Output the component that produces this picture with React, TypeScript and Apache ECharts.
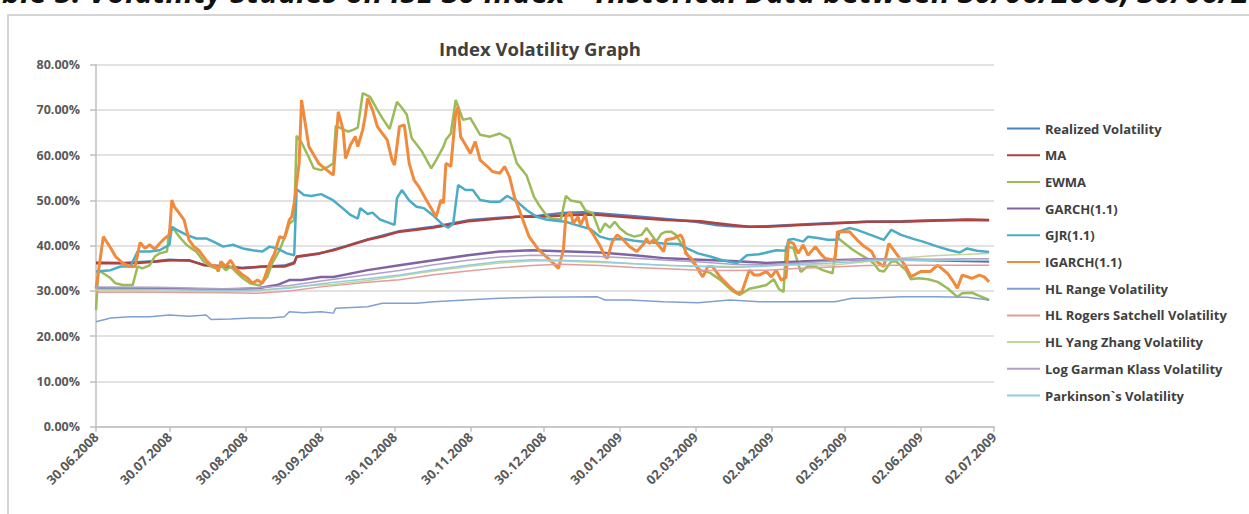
import React, { useEffect, useRef } from "react";
import * as echarts from "echarts";

// Calendar-day category axis: 30.06.2008 .. 02.07.2009
const START_YEAR = 2008;
const START_MONTH = 5; // June (0-based)
const START_DAY = 30;
const DAY_COUNT = 368;

const tickLabels = [
  "30.06.2008", "30.07.2008", "30.08.2008", "30.09.2008", "30.10.2008",
  "30.11.2008", "30.12.2008", "30.01.2009", "02.03.2009", "02.04.2009",
  "02.05.2009", "02.06.2009", "02.07.2009",
];

const seriesNames = [
  "Realized Volatility", "MA", "EWMA", "GARCH(1.1)", "GJR(1.1)", "IGARCH(1.1)",
  "HL Range Volatility", "HL Rogers Satchell Volatility", "HL Yang Zhang Volatility",
  "Log Garman Klass Volatility", "Parkinson`s Volatility",
];

// [day index, volatility %]
const realized: [number, number][] = [[0,36.3],[11,36.2],[25,36.6],[30,36.9],[38,36.7],[44,35.8],[60,35.1],[77,35.6],[81,36.3],[82,37.5],[91,38.2],[102,39.9],[111,41.4],[124,43.2],[138,44.2],[152,45.6],[165,46.2],[181,46.6],[190,47.2],[199,47.4],[206,47.1],[220,46.5],[233,45.9],[245,45.3],[253,44.6],[260,44.3],[267,44.2],[274,44.3],[288,44.7],[301,45.0],[315,45.3],[329,45.4],[342,45.6],[356,45.7],[365,45.6]];
const ma: [number, number][] = [[0,36.1],[11,36.1],[17,36.2],[25,36.5],[30,36.8],[38,36.8],[44,35.7],[52,35.4],[60,35.0],[68,35.4],[77,35.4],[81,36.1],[82,37.6],[91,38.3],[97,39.0],[102,39.8],[111,41.3],[117,42.0],[124,43.1],[131,43.5],[138,44.0],[145,44.7],[152,45.4],[158,45.7],[165,46.0],[172,46.4],[181,46.4],[199,46.9],[206,46.8],[220,46.2],[233,45.7],[247,45.4],[253,45.0],[260,44.6],[267,44.2],[274,44.2],[288,44.6],[301,44.9],[315,45.3],[329,45.3],[342,45.5],[356,45.8],[365,45.7]];
const ewma: [number, number][] = [[0,25.8],[1,34.6],[3,33.9],[6,32.8],[8,31.7],[11,31.3],[15,31.3],[17,35.4],[19,35.0],[22,35.7],[24,37.6],[26,38.3],[29,38.7],[30,43.5],[32,43.5],[34,42.0],[37,40.2],[39,39.4],[41,38.7],[44,36.5],[47,35.4],[49,35.0],[51,35.7],[53,34.6],[55,35.4],[57,34.3],[60,32.8],[63,31.7],[66,31.3],[67,31.3],[70,33.1],[72,36.1],[75,39.0],[78,43.1],[79,44.9],[81,45.7],[82,64.3],[84,62.8],[87,59.5],[89,57.1],[92,56.7],[95,57.5],[97,58.2],[98,66.5],[100,66.0],[103,65.2],[105,65.6],[107,66.1],[109,73.7],[112,72.9],[115,70.0],[117,68.2],[120,65.8],[123,71.8],[125,70.5],[127,69.0],[129,63.8],[133,61.0],[137,57.1],[139,58.9],[142,61.9],[143,63.4],[145,64.8],[147,72.2],[150,67.8],[153,68.2],[157,64.5],[161,64.1],[165,64.8],[169,63.6],[172,58.2],[176,55.5],[179,50.8],[181,49.0],[184,46.8],[186,46.0],[190,45.8],[192,51.0],[194,50.0],[198,49.6],[200,47.8],[203,47.2],[206,42.9],[208,44.9],[210,44.0],[212,45.3],[214,43.9],[217,42.6],[220,42.0],[223,42.4],[225,43.9],[227,42.4],[229,40.9],[231,42.6],[233,43.1],[235,43.1],[237,42.4],[240,39.8],[243,36.8],[247,34.6],[251,34.0],[255,32.5],[260,30.0],[263,29.1],[265,29.8],[267,30.5],[270,30.8],[274,31.3],[277,32.6],[279,30.5],[281,29.8],[282,39.8],[285,39.5],[288,34.2],[291,35.5],[294,35.4],[297,34.6],[301,33.9],[303,41.8],[306,40.5],[309,39.2],[311,38.5],[315,37.2],[318,36.0],[320,34.5],[322,34.3],[325,36.5],[327,36.5],[331,34.6],[333,32.6],[336,32.8],[340,32.6],[344,32.0],[348,30.6],[352,28.7],[354,29.5],[358,29.6],[361,28.9],[365,28.0]];
const garch: [number, number][] = [[0,30.6],[25,30.6],[52,30.2],[66,30.6],[74,31.3],[79,32.4],[84,32.4],[92,33.1],[97,33.1],[111,34.6],[124,35.7],[138,36.8],[152,37.9],[165,38.7],[178,39.0],[190,38.8],[206,38.5],[220,37.9],[233,37.2],[247,36.9],[260,36.6],[274,36.2],[288,36.5],[301,36.8],[315,37.0],[329,36.9],[342,36.8],[356,36.6],[365,36.5]];
const gjr: [number, number][] = [[0,34.3],[6,34.6],[10,35.4],[14,35.4],[17,38.7],[22,38.7],[26,39.0],[30,40.2],[31,44.2],[33,43.5],[37,42.4],[41,41.6],[45,41.6],[48,40.9],[52,39.8],[56,40.2],[60,39.4],[64,39.0],[68,38.7],[71,39.8],[74,39.4],[78,38.3],[81,37.9],[82,52.5],[85,51.2],[88,51.0],[92,51.4],[97,50.0],[101,48.2],[104,46.8],[107,46.0],[108,48.3],[111,47.0],[113,47.3],[116,45.8],[119,45.2],[122,44.6],[123,50.5],[125,52.3],[128,50.0],[131,48.6],[134,48.3],[138,46.6],[142,44.5],[144,44.0],[146,44.9],[148,53.4],[151,52.3],[154,52.3],[157,50.1],[161,49.7],[165,49.7],[168,51.0],[172,49.8],[176,47.9],[180,46.4],[184,45.8],[188,45.5],[192,45.3],[196,44.6],[202,43.7],[206,42.0],[210,41.4],[216,41.5],[220,41.1],[225,40.8],[232,40.5],[238,40.4],[242,39.3],[246,38.3],[251,37.6],[256,36.8],[262,36.1],[266,37.9],[271,38.1],[278,39.0],[282,38.9],[283,41.3],[285,41.5],[289,40.9],[291,42.0],[295,41.7],[299,41.3],[303,41.3],[304,43.2],[308,43.9],[311,43.5],[316,42.5],[322,41.3],[325,43.5],[329,42.4],[334,41.5],[338,40.9],[344,39.8],[349,39.0],[353,38.5],[356,39.4],[360,38.9],[365,38.6]];
const igarch: [number, number][] = [[0,30.5],[3,42.0],[6,39.5],[8,37.6],[11,36.1],[14,35.4],[16,35.4],[18,40.7],[20,39.4],[22,40.2],[24,39.2],[26,40.5],[28,41.6],[30,42.4],[31,50.1],[32,48.6],[34,47.2],[36,45.7],[37,43.5],[38,41.3],[40,39.8],[42,39.0],[45,36.8],[47,35.7],[49,35.4],[50,34.3],[51,36.5],[53,35.4],[55,36.8],[57,35.0],[60,33.5],[62,32.8],[64,31.7],[66,32.4],[68,31.7],[69,33.1],[71,36.1],[73,38.3],[75,42.0],[77,41.6],[79,45.7],[80,46.4],[81,49.4],[83,58.2],[84,72.2],[87,61.9],[91,58.2],[96,56.0],[97,55.6],[99,69.6],[101,65.6],[102,59.3],[104,62.3],[106,64.1],[107,61.9],[109,65.6],[110,68.5],[111,72.6],[113,70.0],[115,66.3],[119,63.4],[121,58.9],[122,57.8],[124,66.3],[126,66.7],[128,58.2],[130,54.5],[132,53.0],[135,50.1],[139,46.4],[141,50.1],[142,49.4],[143,58.2],[145,57.5],[147,69.3],[148,70.7],[149,64.1],[151,62.3],[153,60.4],[155,63.0],[157,58.9],[160,57.5],[162,56.4],[165,56.0],[167,57.5],[169,55.2],[171,50.8],[173,47.9],[175,44.9],[177,42.0],[179,40.5],[181,39.0],[184,37.6],[187,36.1],[189,35.0],[191,39.0],[192,46.4],[194,47.5],[195,44.9],[197,46.4],[198,44.6],[200,46.8],[201,44.2],[203,42.7],[206,40.0],[208,37.6],[209,37.2],[211,40.9],[213,42.4],[215,41.6],[218,39.8],[221,38.7],[224,40.5],[225,41.6],[226,40.5],[228,41.3],[232,38.7],[233,41.3],[236,41.6],[239,42.4],[240,41.3],[241,38.3],[244,36.8],[247,33.9],[248,33.1],[250,35.4],[252,35.4],[255,33.1],[259,30.9],[262,29.5],[264,29.8],[267,34.6],[269,33.5],[271,33.5],[274,34.3],[276,33.1],[278,34.6],[280,32.4],[282,33.0],[283,40.9],[285,40.5],[287,38.3],[289,40.2],[291,37.9],[294,39.8],[296,38.3],[298,37.2],[302,36.8],[303,43.1],[308,43.1],[311,41.3],[314,39.8],[317,38.7],[319,36.5],[322,35.4],[324,40.5],[327,38.3],[331,35.4],[333,33.1],[337,34.3],[341,34.3],[344,35.7],[348,33.9],[350,32.4],[352,30.6],[354,33.5],[358,32.8],[361,33.5],[363,33.1],[365,32.0]];
const hlRange: [number, number][] = [[0,23.2],[6,24.0],[14,24.3],[22,24.3],[30,24.7],[38,24.4],[45,24.7],[47,23.7],[55,23.8],[63,24.0],[71,24.0],[77,24.3],[79,25.4],[85,25.2],[92,25.4],[97,25.1],[98,26.2],[111,26.5],[117,27.3],[131,27.3],[138,27.6],[151,28.0],[165,28.4],[181,28.6],[205,28.7],[208,28.0],[218,28.0],[232,27.6],[246,27.4],[259,28.0],[271,27.6],[288,27.6],[302,27.6],[309,28.4],[315,28.4],[329,28.7],[343,28.7],[356,28.6],[365,28.0]];
const rogersSatchell: [number, number][] = [[0,29.7],[25,29.7],[52,29.6],[66,29.5],[79,30.0],[92,30.9],[111,31.9],[124,32.5],[138,33.6],[152,34.4],[165,35.1],[178,35.6],[190,35.9],[206,35.6],[220,35.2],[233,34.9],[247,34.6],[260,34.5],[274,34.6],[288,35.0],[301,35.3],[315,35.6],[329,35.7],[342,35.7],[356,35.7],[365,35.7]];
const yangZhang: [number, number][] = [[0,30.2],[25,30.0],[52,29.9],[66,30.0],[79,30.8],[88,31.2],[97,31.4],[111,32.3],[124,33.3],[138,34.4],[152,35.4],[165,36.2],[178,36.6],[190,36.6],[206,36.3],[220,36.0],[233,35.6],[247,35.5],[260,35.4],[274,35.6],[288,35.8],[301,35.7],[315,36.5],[329,37.3],[342,37.8],[356,38.1],[365,38.3]];
const garmanKlass: [number, number][] = [[0,30.9],[25,30.8],[52,30.5],[66,30.7],[79,31.2],[92,32.2],[111,33.6],[124,34.5],[138,35.8],[152,36.8],[165,37.5],[178,37.9],[190,37.8],[206,37.6],[220,37.2],[233,36.8],[247,36.4],[260,35.9],[274,35.8],[288,36.2],[301,36.6],[315,37.0],[329,37.0],[342,37.0],[356,37.1],[365,37.1]];
const parkinson: [number, number][] = [[0,30.4],[25,30.3],[52,30.1],[66,30.2],[79,30.6],[92,31.6],[111,32.7],[124,33.5],[138,34.7],[152,35.7],[165,36.5],[178,36.9],[190,36.8],[206,36.5],[220,36.0],[233,35.7],[247,35.4],[260,35.2],[274,35.5],[288,35.9],[301,36.2],[315,36.6],[329,36.8],[342,36.8],[356,36.8],[365,36.8]];

const seriesData = [realized, ma, ewma, garch, gjr, igarch, hlRange, rogersSatchell, yangZhang, garmanKlass, parkinson];
const seriesColors = ["#4F81BD", "#B0413E", "#9BBB59", "#8064A2", "#4BACC6", "#F08A3C", "#7FA0D3", "#E39C9A", "#C2D69B", "#B2A1C7", "#92CDDC"];
const seriesWidths = [2.5, 2.5, 2.5, 2.5, 2.5, 3, 1.5, 1.5, 1.5, 1.5, 1.5];

const FONT = "'Open Sans', 'DejaVu Sans', sans-serif";

function pad(n: number) { return n < 10 ? "0" + n : "" + n; }
function buildCategories(): string[] {
  const out: string[] = [];
  const start = Date.UTC(START_YEAR, START_MONTH, START_DAY);
  for (let i = 0; i < DAY_COUNT; i++) {
    const d = new Date(start + i * 86400000);
    out.push(pad(d.getUTCDate()) + "." + pad(d.getUTCMonth() + 1) + "." + d.getUTCFullYear());
  }
  return out;
}

export default function App() {
  const ref = useRef<HTMLDivElement>(null);
  useEffect(() => {
    document.body.style.margin = "0";
    document.body.style.overflow = "hidden";
    const chart = echarts.init(ref.current as HTMLDivElement, null, { renderer: "svg" });
    const categories = buildCategories();
    const tickSet = new Set(tickLabels);
    const showTick = (_i: number, v: string) => tickSet.has(v);
    chart.setOption({
      animation: false,
      backgroundColor: "#ffffff",
      grid: { left: 96, right: 255, top: 64.7, bottom: 87.3, containLabel: false },
      graphic: [
        { type: "rect", shape: { x: 8, y: 15, width: 1300, height: 600 }, style: { fill: "none", stroke: "#C8C8C8", lineWidth: 1.5 }, silent: true },
        { type: "text", style: { x: -33, y: 6, text: "Table 5. Volatility Studies on ISE 30 Index \u2013 Historical Data between 30/06/2008, 30/06/2009", font: "italic bold 31px " + FONT, fill: "#111", textVerticalAlign: "bottom" }, silent: true },
        { type: "text", style: { x: 540, y: 48, text: "Index Volatility Graph", font: "bold 18.5px " + FONT, fill: "#404040", textAlign: "center", textVerticalAlign: "middle" }, silent: true },
      ],
      legend: {
        orient: "vertical",
        left: 1001,
        top: 117,
        itemWidth: 33,
        itemHeight: 14,
        itemGap: 13.7,
        data: seriesNames,
        itemStyle: { opacity: 0 },
        textStyle: { fontSize: 13, fontWeight: "bold", color: "#404040", fontFamily: FONT },
      },
      xAxis: {
        type: "category",
        data: categories,
        boundaryGap: false,
        axisLine: { lineStyle: { color: "#BFBFBF", width: 1.5 } },
        axisTick: { show: true, interval: showTick, length: 5, lineStyle: { color: "#BFBFBF", width: 1.5 } },
        axisLabel: { interval: showTick, rotate: 45, margin: 8, fontSize: 13, fontWeight: "bold", color: "#595959", fontFamily: FONT },
        splitLine: { show: false },
      },
      yAxis: {
        type: "value",
        min: 0,
        max: 80,
        interval: 10,
        axisLine: { show: true, lineStyle: { color: "#BFBFBF", width: 1.5 } },
        axisTick: { show: true, length: 6, lineStyle: { color: "#BFBFBF", width: 1.5 } },
        axisLabel: { formatter: (v: number) => v.toFixed(2) + "%", margin: 16, fontSize: 12.5, fontWeight: "bold", color: "#595959", fontFamily: FONT },
        splitLine: { lineStyle: { color: "#D9D9D9", width: 1.5 } },
      },
      series: seriesNames.map((name, i) => ({
        name,
        type: "line",
        data: seriesData[i],
        symbol: "none",
        silent: true,
        lineStyle: { color: seriesColors[i], width: seriesWidths[i] },
        itemStyle: { color: seriesColors[i] },
      })),
    });
    return () => chart.dispose();
  }, []);
  return <div ref={ref} style={{ width: 1249, height: 514 }} />;
}
